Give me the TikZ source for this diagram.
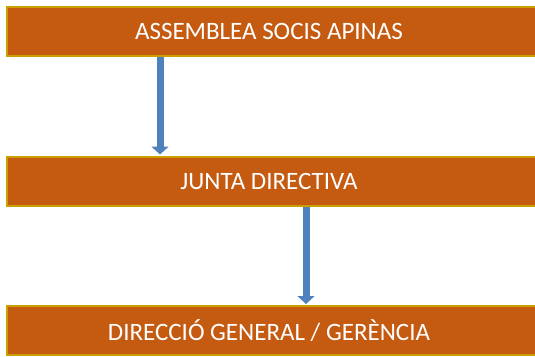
\documentclass[tikz,border=0pt]{standalone}
\usepackage{fontspec}
\setmainfont{Carlito}
\usetikzlibrary{arrows.meta,calc}
\definecolor{boxfill}{HTML}{C55A11}
\definecolor{boxline}{HTML}{C9A000}
\definecolor{arrfill}{HTML}{4F81BD}
\tikzset{
  orgbox/.style={draw=boxline, line width=2pt, fill=boxfill, text=white,
    minimum width=560pt, minimum height=49pt, inner sep=0pt,
    font=\fontsize{25}{28}\selectfont},
  flowarrow/.style={draw=arrfill, line width=7pt,
    -{Triangle[width=17pt,length=8pt]}}
}
\begin{document}
\begin{tikzpicture}[x=1pt,y=-1pt]
\useasboundingbox (0,0) rectangle (535,356);
\begin{scope}
\clip (0,0) rectangle (535,356);
\node[orgbox] (a) at (287,31.5) {\hspace*{-36pt}ASSEMBLEA SOCIS APINAS};
\node[orgbox] (b) at (287,181) {\hspace*{-36pt}JUNTA DIRECTIVA};
\node[orgbox] (c) at (287,330.5) {\hspace*{-36pt}DIRECCIÓ GENERAL / GERÈNCIA};
\end{scope}
\draw[flowarrow] ($(a.south west)+(154,0)$) -- ($(b.north west)+(154,-1)$);
\draw[flowarrow] ($(b.south west)+(300,0)$) -- ($(c.north west)+(300,-1)$);
\end{tikzpicture}
\end{document}
